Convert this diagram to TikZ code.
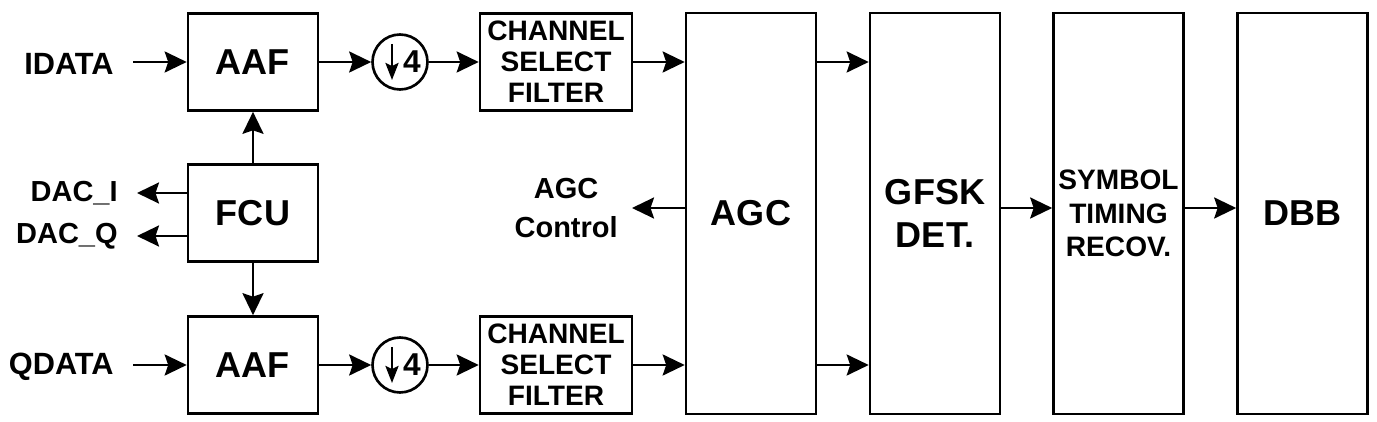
\documentclass[tikz,border=0pt]{standalone}
\usepackage{fontspec}
\setmainfont{Liberation Sans}
\usetikzlibrary{arrows.meta, calc}

\begin{document}
\begin{tikzpicture}[x=0.02cm, y=-0.02cm,
		blk/.style={draw, line width=1.5pt, inner sep=0pt, align=center, font=\bfseries\fontsize{20.5}{24}\selectfont},
		small/.style={font=\bfseries\fontsize{16}{17.6}\selectfont},
		sig/.style={inner xsep=0.38cm, inner ysep=0pt, align=center, font=\bfseries\fontsize{16.5}{21}\selectfont},
		arr/.style={line width=1.5pt, -{Stealth[length=0.44cm, width=0.42cm, inset=0.07cm]}}]
			\def\bw{2.6cm};
			\def\bh{1.94cm};
			\def\th{8.02cm};

			\useasboundingbox (0,0) rectangle (1377,422);
			\coordinate (mid) at (0,208);

			% I and Q paths
			\foreach \r/\y/\lab in {I/62/IDATA, Q/365/QDATA} {
				\node [blk, minimum width=\bw, minimum height=\bh] (aaf\r) at (253,\y) {AAF};
				\node [sig, anchor=east, font=\bfseries\fontsize{17.5}{21}\selectfont] (in\r) at (133,\y+2) {\lab};
				\node [draw, circle, line width=1.5pt, minimum size=1.1cm, inner sep=0pt] (dec\r) at (400,\y) {};
				\draw [line width=1.5pt, -{Stealth[length=0.34cm, width=0.26cm, inset=0.06cm]}] (dec\r) ++(-8,-18) -- ++(0,36);
				\node [font=\bfseries\fontsize{18}{18}\selectfont, inner sep=0pt] at ($(dec\r)+(12,0)$) {4};
				\node [blk, small, minimum width=3.04cm, minimum height=\bh] (csf\r) at (556,\y) {CHANNEL\\SELECT\\FILTER};

				\draw [arr] (in\r.east |- aaf\r.west) -- (aaf\r.west);
				\draw [arr] (aaf\r) -- (dec\r);
				\draw [arr] (dec\r) -- (csf\r);
			}

			\node [blk, minimum width=\bw, minimum height=\bh] (fcu) at (253,213) {FCU};
			\node [sig, anchor=east] (daci) at (137,193) {DAC\_I};
			\node [sig, anchor=east] (dacq) at (137,236) {DAC\_Q};

			\begin{scope}[every node/.style={blk, minimum width=\bw, minimum height=\th}]
				\node (agc) at (751,213.5) {AGC};
				\node (gfsk) at (935,213.5) {GFSK\\DET.};
				\node [font=\bfseries\fontsize{16}{19}\selectfont] (sym) at (1118.5,213.5) {SYMBOL\\TIMING\\RECOV.};
				\node (dbb) at (1302.5,213.5) {DBB};
			\end{scope}
			\node [sig, anchor=east, inner xsep=0.28cm, font=\bfseries\fontsize{16.5}{22}\selectfont] (ctl) at (632,208) {AGC\\Control};

			\draw [arr] (fcu) -- (aafI);
			\draw [arr] (fcu) -- (aafQ);
			\draw [arr] (fcu.west |- daci.east) -- (daci.east);
			\draw [arr] (fcu.west |- dacq.east) -- (dacq.east);

			\draw [arr] (csfI.east) -- (csfI.east -| agc.west);
			\draw [arr] (csfQ.east) -- (csfQ.east -| agc.west);
			\draw [arr] (agc.east |- csfI.east) -- (gfsk.west |- csfI.east);
			\draw [arr] (agc.east |- csfQ.east) -- (gfsk.west |- csfQ.east);
			\draw [arr] (agc.west |- ctl.east) -- (ctl.east);
			\draw [arr] (gfsk.east |- mid) -- (sym.west |- mid);
			\draw [arr] (sym.east |- mid) -- (dbb.west |- mid);
		\end{tikzpicture}
\end{document}
